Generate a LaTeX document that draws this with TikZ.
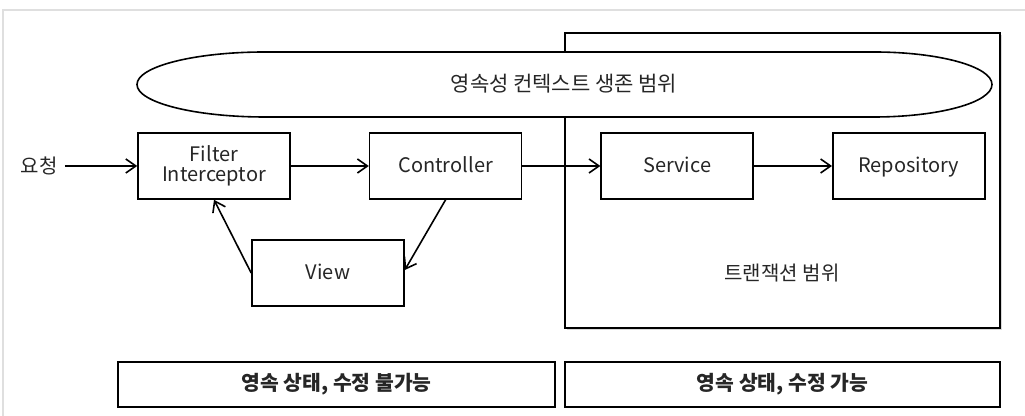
\documentclass[tikz,border=0pt]{standalone}
\usepackage{fontspec}
\setmainfont{Noto Sans CJK KR}
\usepackage{tikz}
\usetikzlibrary{arrows.meta,calc,positioning,shadows}

\begin{document}
\begin{tikzpicture}[x=0.5pt,y=0.5pt,>={Straight Barb[length=5pt,width=7pt]},node distance=39pt, line width=0.8pt]
	\tikzstyle{every node}=[font=\fontsize{10}{12}\selectfont, text=black!85]
	\tikzstyle{layer}=[draw=black, fill=white, minimum width=76pt, minimum height=33pt, align=center, inner sep=1pt]
	\tikzstyle{one line}=[text height=7pt, text depth=0pt]
	\tikzstyle{state band}=[draw=black, minimum height=22.5pt, font=\fontsize{10.2}{12}\selectfont\bfseries]
	\useasboundingbox (0,0) rectangle (1025,416);
	\draw[gray!25, line width=1.2pt] (3,0) -- (3,406) -- (1025,406);

	% transaction scope
	\node[draw=black, fill=white, minimum width=217.5pt, minimum height=147.5pt,
		drop shadow={opacity=0.3, shadow xshift=0.8pt, shadow yshift=-0.8pt}] (tx) at (782.5,235.5) {};
	\node (txlabel) at (782,143) {트랜잭션 범위};

	% persistence context
	\draw[fill=white] (265,364) -- (874,364) arc[start angle=90, end angle=-90, x radius=59pt, y radius=16.25pt]
		-- (265,299) arc[start angle=270, end angle=90, x radius=64pt, y radius=16.25pt] -- cycle;
	\node[font=\fontsize{10.5}{12}\selectfont] (ctx) at (564,332) {영속성 컨텍스트 생존 범위};

	\node (req) at (39,250) {요청};
	\node[layer] (filter) at (214,250) {Filter\\[-2pt]Interceptor};
	\node[layer, one line] (ctrl) [right=of filter] {Controller};
	\node[layer, one line] (svc) [right=of ctrl] {Service};
	\node[layer, one line] (repo) [right=of svc] {Repository};
	\node[layer, one line] (view) at (328,143) {View};

	\foreach \a/\b in {req/filter, filter/ctrl, ctrl/svc, svc/repo}{
		\draw[->] (\a) -- (\b);
	}
	\draw[->] (ctrl.south) -- ([yshift=1.5pt]view.east);
	\draw[->] (view.west) -- (filter.south);

	\node[state band, minimum width=218.5pt] (readonly) at (336.5,31.5) {영속 상태, 수정 불가능};
	\node[state band, minimum width=217.5pt] (writable) at (782.5,31.5) {영속 상태, 수정 가능};
\end{tikzpicture}
\end{document}
